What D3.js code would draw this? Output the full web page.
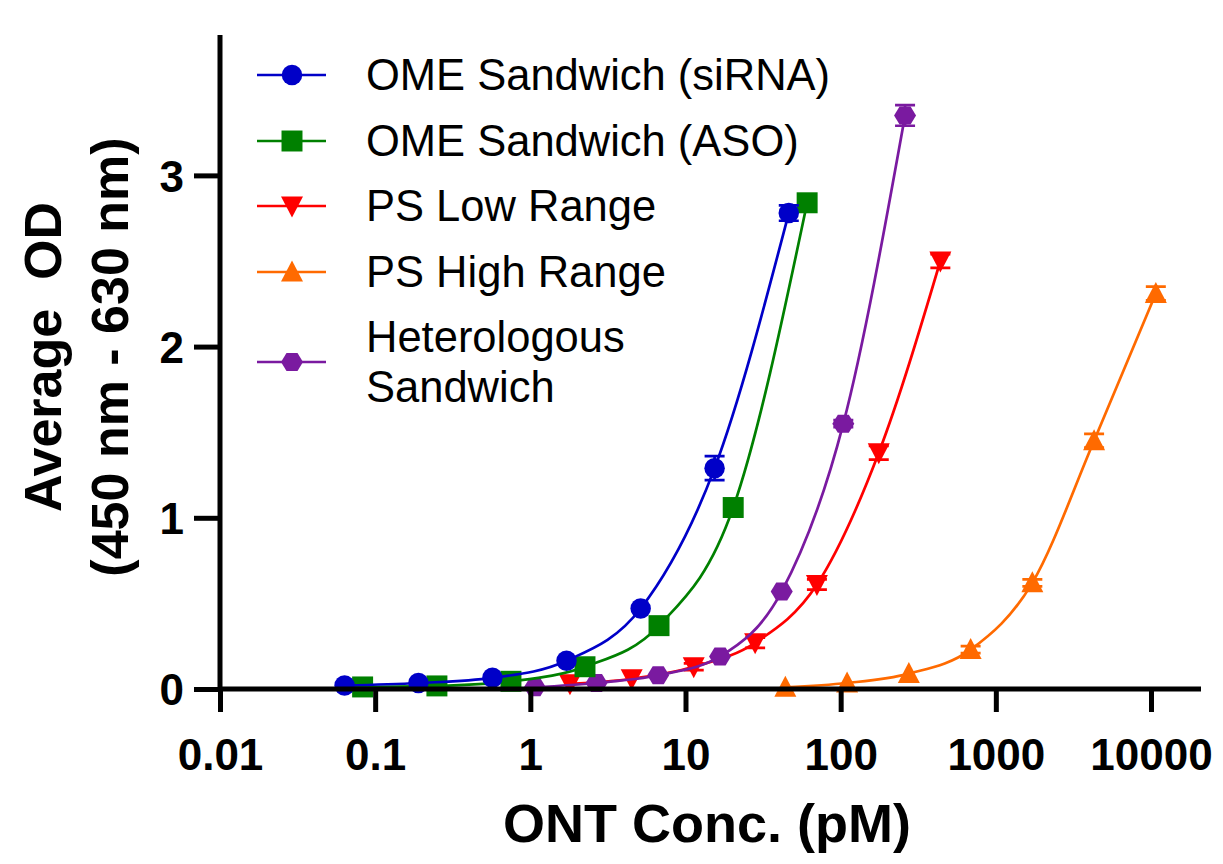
<!DOCTYPE html>
<html><head><meta charset="utf-8">
<script src="https://cdn.jsdelivr.net/npm/d3@7"></script>
<style>body{margin:0;background:#fff}</style>
</head><body>
<svg id="c" width="1223" height="864"></svg>
<script>
const seriesNames = ["OME Sandwich (siRNA)","OME Sandwich (ASO)","PS Low Range","PS High Range","Heterologous Sandwich"];
const seriesColors = ["#0000c8","#008000","#ff0000","#ff6a00","#7a1aa0"];
const seriesSymbols = ["circle","square","down","up","hex"];
const siRNA_x = [0.0635,0.19,0.57,1.71,5.14,15.4,46.3];
const siRNA_y = [0.02,0.035,0.065,0.165,0.47,1.29,2.78];
const siRNA_e = [0,0,0,0,0,0.07,0.045];
const aso_x = [0.083,0.25,0.75,2.25,6.75,20.3,60.8];
const aso_y = [0.012,0.018,0.045,0.13,0.37,1.06,2.84];
const aso_e = [0,0,0,0,0,0,0];
const psLow_x = [1.8,4.5,11.3,28.1,70.3,176,439];
const psLow_y = [0.03,0.06,0.13,0.27,0.61,1.38,2.5];
const psLow_e = [0,0,0.02,0.03,0.03,0.04,0.04];
const psHigh_x = [44,110,275,688,1719,4297,10742];
const psHigh_y = [0.01,0.035,0.09,0.23,0.62,1.45,2.31];
const psHigh_e = [0,0,0,0.02,0.02,0.04,0.04];
const het_x = [1.07,2.67,6.67,16.7,41.7,104,260];
const het_y = [0.01,0.035,0.08,0.19,0.57,1.55,3.35];
const het_e = [0,0,0,0,0,0.02,0.06];
const xTicks = [0.01,0.1,1,10,100,1000,10000];
const yTicks = [0,1,2,3];

const allX=[siRNA_x,aso_x,psLow_x,psHigh_x,het_x];
const allY=[siRNA_y,aso_y,psLow_y,psHigh_y,het_y];
const allE=[siRNA_e,aso_e,psLow_e,psHigh_e,het_e];

const svg=d3.select("#c");
const x=d3.scaleLog().domain([0.01,21000]).range([220,1201]);
const y=d3.scaleLinear().domain([0,3.82]).range([689,35]);
const font="'Liberation Sans', Arial, sans-serif";

const line=d3.line().x(d=>x(d[0])).y(d=>y(d[1])).curve(d3.curveMonotoneX);
function symbolPath(kind){
  if(kind==="circle") return d3.symbol(d3.symbolCircle,330)();
  if(kind==="square") return d3.symbol(d3.symbolSquare,440)();
  if(kind==="up"){return "M0,-11.5L11,9.5L-11,9.5Z";}
  if(kind==="down"){return "M0,11.5L11,-9.5L-11,-9.5Z";}
  if(kind==="hex"){return "M-11,0L-5.5,-9L5.5,-9L11,0L5.5,9L-5.5,9Z";}
}
const order=[3,2,4,1,0];
order.forEach(i=>{
  const pts=allX[i].map((v,j)=>[v,allY[i][j],allE[i][j]]);
  const g=svg.append("g");
  g.append("path").attr("d",line(pts)).attr("fill","none").attr("stroke",seriesColors[i]).attr("stroke-width",2.7);
  pts.forEach(p=>{
    if(p[2]>0){
      const x0=x(p[0]),y1=y(p[1]+p[2]),y2=y(p[1]-p[2]);
      g.append("path").attr("d",`M${x0},${y1}V${y2}M${x0-10},${y1}H${x0+10}M${x0-10},${y2}H${x0+10}`).attr("stroke",seriesColors[i]).attr("stroke-width",2.7).attr("fill","none");
    }
    g.append("path").attr("d",symbolPath(seriesSymbols[i])).attr("transform",`translate(${x(p[0])},${y(p[1])})`).attr("fill",seriesColors[i]);
  });
});

// axes
const ax=svg.append("g").attr("transform","translate(0,689)")
 .call(d3.axisBottom(x).tickValues(xTicks).tickFormat(d=>String(d)).tickSize(23).tickPadding(14));
const ay=svg.append("g").attr("transform","translate(220,0)")
 .call(d3.axisLeft(y).tickValues(yTicks).tickFormat(d3.format("d")).tickSize(26).tickPadding(10));
[ax,ay].forEach(a=>{
  a.select(".domain").attr("stroke","#000").attr("stroke-width",5);
  a.selectAll(".tick line").attr("stroke","#000").attr("stroke-width",5);
  a.selectAll(".tick text").attr("font-family",font).attr("font-weight","bold").attr("font-size",44).attr("fill","#000");
});
ax.selectAll(".tick text").attr("dy",null).attr("y",81);
ay.selectAll(".tick text").attr("dy","0.36em");
ax.select(".domain").attr("d","M220,0H1201");
ay.select(".domain").attr("d","M0,35V691");

// titles
svg.append("text").attr("x",707).attr("y",842).attr("text-anchor","middle").attr("font-family",font).attr("font-weight","bold").attr("font-size",54).text("ONT Conc. (pM)");
const yt=svg.append("text").attr("transform","translate(0,357) rotate(-90)").attr("text-anchor","middle").attr("font-family",font).attr("font-weight","bold").attr("font-size",52);
yt.append("tspan").attr("x",0).attr("y",61).attr("xml:space","preserve").style("white-space","pre").text("Average  OD");
yt.append("tspan").attr("x",0).attr("y",128).text("(450 nm - 630 nm)");

// legend
const legY=[75,141,206,272,362];
const legText=[["OME Sandwich (siRNA)"],["OME Sandwich (ASO)"],["PS Low Range"],["PS High Range"],["Heterologous","Sandwich"]];
seriesNames.forEach((n,i)=>{
  const g=svg.append("g").attr("transform",`translate(0,${legY[i]})`);
  g.append("line").attr("x1",257).attr("x2",326).attr("stroke",seriesColors[i]).attr("stroke-width",2.7);
  g.append("path").attr("d",symbolPath(seriesSymbols[i])).attr("transform","translate(292,0)").attr("fill",seriesColors[i]);
  const t=g.append("text").attr("font-family",font).attr("font-size",43.5).attr("fill","#000");
  const lines=legText[i];
  lines.forEach((s,k)=>{
    t.append("tspan").attr("x",366).attr("y",(k-(lines.length-1)/2)*50+15).text(s);
  });
});
</script>
</body></html>
